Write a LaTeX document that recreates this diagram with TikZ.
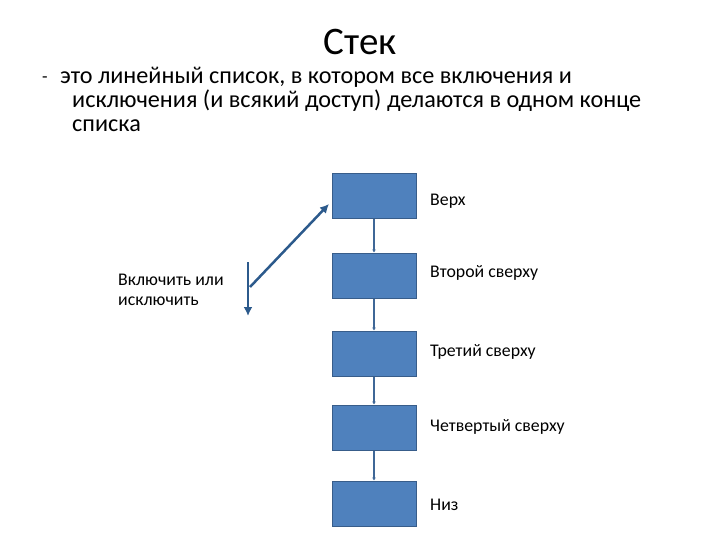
\documentclass[tikz,border=0pt]{standalone}
\usepackage{fontspec}
\setmainfont{Carlito}
\usetikzlibrary{arrows.meta}

\definecolor{boxfill}{HTML}{4F81BD}
\definecolor{boxline}{HTML}{385D8A}
\definecolor{arrline}{HTML}{2C5A8C}

\tikzset{
  cell/.style={draw=boxline, fill=boxfill, line width=1pt, minimum width=84pt, minimum height=45pt, inner sep=0pt},
  link/.style={draw=boxfill!80!black, line width=1.5pt, -{Latex[length=3pt,width=4pt]}},
  lbl/.style={anchor=west, font=\fontsize{17.8}{20}\selectfont, inner sep=0pt},
  defn/.style={anchor=base west, font=\fontsize{24.2}{28}\selectfont, inner sep=0pt},
  move/.style={draw=arrline, line width=2.5pt, -{Latex[length=9pt,width=9pt]}}
}

\begin{document}
\begin{tikzpicture}[x=1pt,y=-1pt]
    \useasboundingbox (0,0) rectangle (720,540);

    % title and definition
    \node[anchor=base, font=\fontsize{39}{44}\selectfont] (title) at (360,55) {Стек};
    \node[defn, font=\fontsize{18}{20}\selectfont] (dash) at (42,83) {-};
    \node[defn] (line1) at (60,84) {это линейный список, в котором все включения и};
    \node[defn] (line2) at (72,108) {исключения (и всякий доступ) делаются в одном конце};
    \node[defn] (line3) at (72,132) {списка};

    % the stack
    \node[cell] (top)    at (374,196.5) {};
    \node[cell] (second) at (374,275.5) {};
    \node[cell] (third)  at (374,353.5) {};
    \node[cell] (fourth) at (374,427.5) {};
    \node[cell] (bottom) at (374,503.5) {};

    \draw[link] (top.south) -- (second.north);
    \draw[link] (second.south) -- (third.north);
    \draw[link] (third.south) -- (fourth.north);
    \draw[link] (fourth.south) -- (bottom.north);

    \node[lbl] (ltop)    at (430,201) {Верх};
    \node[lbl] (lsecond) at (430,273) {Второй сверху};
    \node[lbl] (lthird)  at (430,352) {Третий сверху};
    \node[lbl] (lfourth) at (430,427) {Четвертый сверху};
    \node[lbl] (lbottom) at (430,505) {Низ};

    % push / pop
    \node[anchor=north west, align=left, inner sep=0pt, font=\fontsize{17.8}{20}\selectfont] (op) at (118,274) {Включить или\\исключить};
    \coordinate (start) at (250,287);
    \coordinate (push) at (329,204);
    \coordinate (vtop) at (248,262);
    \coordinate (pop) at (248,316);
    \draw[move] (start) -- (push);
    \draw[move] (vtop) -- (pop);
\end{tikzpicture}
\end{document}
